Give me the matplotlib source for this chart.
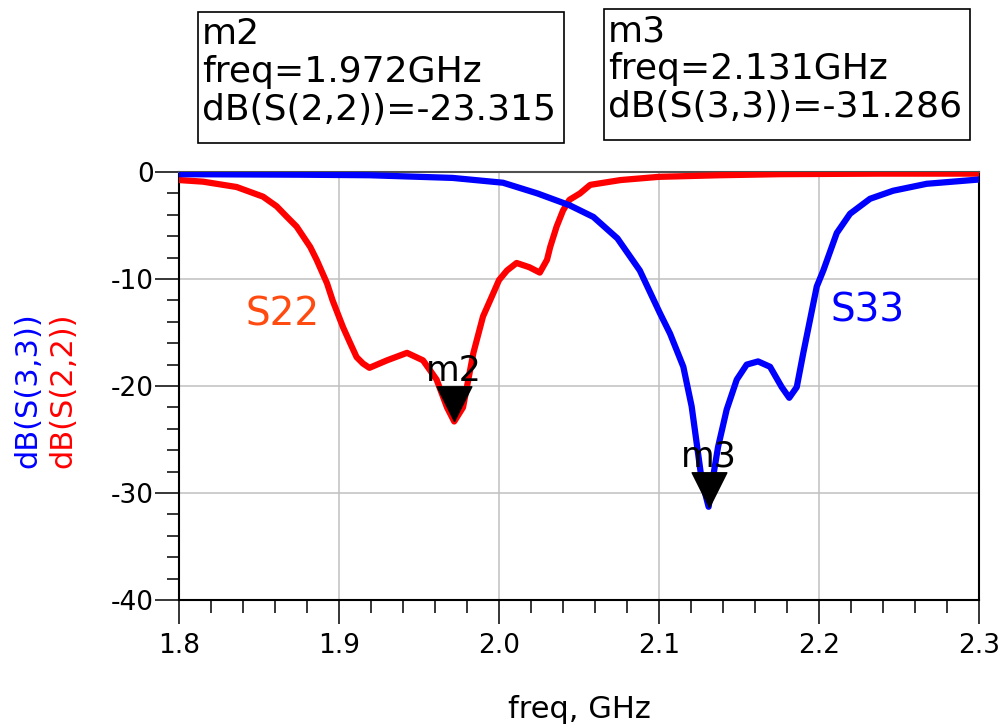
import matplotlib
matplotlib.use("Agg")
import matplotlib.pyplot as plt
from matplotlib.ticker import MultipleLocator, FormatStrFormatter
from matplotlib.patches import Rectangle

plt.rcParams['font.family'] = ['DejaVu Sans']
plt.rcParams['axes.unicode_minus'] = False

# S22 trace (red)
s22_freq = [1.800, 1.815, 1.836, 1.8525, 1.861, 1.8675, 1.8735, 1.882, 1.886,
            1.8925, 1.896, 1.9025, 1.907, 1.911, 1.915, 1.919, 1.930, 1.9425, 1.9525,
            1.961, 1.9675, 1.972, 1.9775, 1.984, 1.990, 1.9965, 2.000, 2.005, 2.011,
            2.019, 2.0255, 2.030, 2.032, 2.036, 2.040, 2.044, 2.0506, 2.057, 2.076,
            2.100, 2.138, 2.176, 2.238, 2.300]
s22_db = [-0.75, -0.9, -1.4, -2.3, -3.2, -4.2, -5.1, -7.0, -8.2,
          -10.4, -12.0, -14.5, -16.0, -17.3, -17.9, -18.3, -17.6, -16.9, -17.6,
          -19.4, -22.0, -23.315, -22.0, -16.9, -13.5, -11.3, -10.1, -9.2, -8.5,
          -8.9, -9.4, -8.2, -7.0, -5.1, -3.6, -2.6, -2.0, -1.2, -0.75,
          -0.45, -0.3, -0.2, -0.15, -0.15]

# S33 trace (blue)
s33_freq = [1.800, 1.876, 1.919, 1.971, 2.0025, 2.024, 2.044, 2.059, 2.074, 2.088,
            2.1006, 2.1069, 2.1152, 2.1204, 2.1236, 2.1267, 2.131, 2.1338, 2.1369, 2.1423,
            2.1486, 2.1548, 2.1619, 2.1694, 2.1767, 2.1814, 2.1861, 2.1902, 2.1944, 2.1986,
            2.2027, 2.2111, 2.2194, 2.2319, 2.2463, 2.2673, 2.300]
s33_db = [-0.2, -0.25, -0.3, -0.55, -1.0, -2.0, -3.1, -4.2, -6.2, -9.2,
          -13.2, -15.1, -18.2, -21.9, -25.4, -28.8, -31.286, -28.5, -25.7, -22.2,
          -19.4, -18.0, -17.7, -18.2, -20.1, -21.1, -20.1, -16.9, -13.8, -10.7,
          -9.2, -5.7, -3.9, -2.5, -1.75, -1.1, -0.7]

# markers
m_names = ["m2", "m3"]
m_freqs = [1.972, 2.131]
m_vals = [-23.315, -31.286]
m_traces = ["S(2,2)", "S(3,3)"]

fig = plt.figure(figsize=(10.04, 7.28), dpi=100)
ax = fig.add_axes([0.1783, 0.1758, 0.7968, 0.5879])

ax.plot(s22_freq, s22_db, color='#ff0000', lw=4.5, solid_joinstyle='round', zorder=3)
ax.plot(s33_freq, s33_db, color='#0000ff', lw=4.5, solid_joinstyle='round', zorder=3)

tri = [(0, 0), (-0.5, 1), (0.5, 1), (0, 0)]
for name, f, v in zip(m_names, m_freqs, m_vals):
    ax.plot([f], [v], marker=tri, markersize=50, color='black', ls='none', zorder=4, clip_on=False)
    ax.annotate(name, (f, v), xytext=(0, 29), textcoords='offset points',
                ha='center', va='baseline', fontsize=25, color='black', zorder=5)

ax.text(1.865, -14.3, "S22", color='#ff4a10', fontsize=28, ha='center', va='baseline')
ax.text(2.2306, -14.0, "S33", color='#0000ff', fontsize=28, ha='center', va='baseline')

ax.set_xlim(1.8, 2.3)
ax.set_ylim(-40, 0)
ax.xaxis.set_major_locator(MultipleLocator(0.1))
ax.xaxis.set_minor_locator(MultipleLocator(0.02))
ax.yaxis.set_major_locator(MultipleLocator(10))
ax.yaxis.set_minor_locator(MultipleLocator(2))
ax.xaxis.set_major_formatter(FormatStrFormatter('%.1f'))
ax.yaxis.set_major_formatter(FormatStrFormatter('%d'))
ax.tick_params(which='major', direction='out', length=17, width=1.1, labelsize=19, color='black')
ax.tick_params(which='minor', direction='out', length=9, width=1.1, color='black')
ax.tick_params(axis='y', which='major', pad=1)
ax.tick_params(axis='x', which='major', pad=7)
ax.grid(True, which='major', color='#c0c0c0', lw=1.1)
ax.set_axisbelow(True)

for side in ['left', 'bottom', 'right']:
    ax.spines[side].set_color('black')
    ax.spines[side].set_linewidth(1.5)
ax.spines['top'].set_color('#505050')
ax.spines['top'].set_linewidth(1.5)

ax.set_xlabel("freq, GHz", fontsize=22, labelpad=26)

# two-coloured y label
fig.text(28 / 1004, 1 - 390 / 728, "dB(S(3,3))", color='#0000ff', fontsize=22,
         rotation=90, ha='center', va='center')
fig.text(63 / 1004, 1 - 390 / 728, "dB(S(2,2))", color='#ff0000', fontsize=22,
         rotation=90, ha='center', va='center')

# marker readout boxes
box_x = [198, 604]
box_top = [12, 9]
box_w = 366
box_h = 131
for i in range(len(m_names)):
    x0 = box_x[i] / 1004
    fig.add_artist(Rectangle((x0, 1 - (box_top[i] + box_h) / 728), box_w / 1004, box_h / 728,
                             transform=fig.transFigure, fill=False, ec='black', lw=1.2))
    lines = [m_names[i],
             "freq={:.3f}GHz".format(m_freqs[i]),
             "dB({})={:.3f}".format(m_traces[i], m_vals[i])]
    for k, txt in enumerate(lines):
        base = box_top[i] + 32 + 38 * k
        fig.text(x0 + 4 / 1004, 1 - base / 728, txt, fontsize=26, ha='left', va='baseline')

fig.savefig("out.png", dpi=100)
